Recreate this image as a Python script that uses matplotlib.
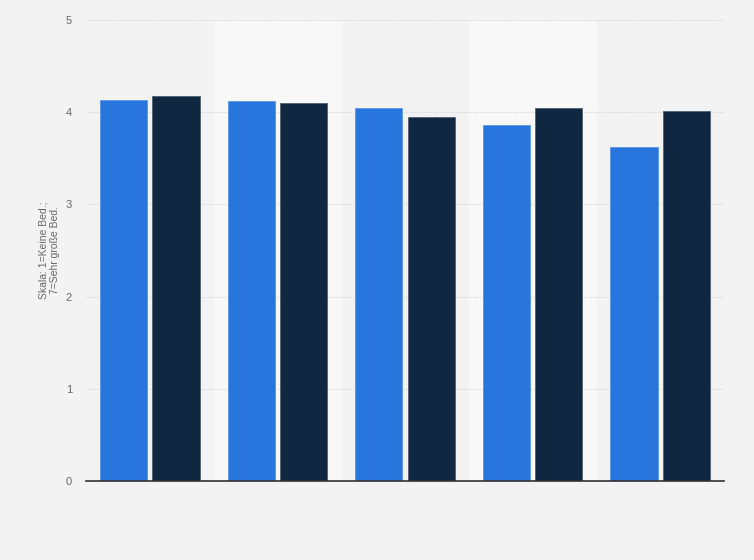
import numpy as np
import matplotlib.pyplot as plt

# Werte
groups = ["1", "2", "3", "4", "5"]
series_a = [4.13, 4.12, 4.05, 3.86, 3.62]
series_b = [4.18, 4.10, 3.95, 4.05, 4.01]
y_ticks = [0, 1, 2, 3, 4, 5]

plt.rcParams["font.family"] = ["Liberation Sans", "DejaVu Sans"]

fig = plt.figure(figsize=(7.54, 5.6), dpi=100, facecolor="#f3f3f3")
ax = fig.add_axes([86 / 754, 1 - 481 / 560, 638 / 754, 461 / 560])
ax.set_facecolor("#f3f3f3")

x = np.arange(len(groups))
w = 0.37
off = 0.206

# hellere Streifen hinter jeder zweiten Gruppe
for i in x:
    if i % 2 == 1:
        ax.axvspan(i - 0.5, i + 0.5, color="#f8f8f8", zorder=0)

ax.bar(x - off, series_a, w, color="#2876dd", edgecolor="#5a95e6", linewidth=0.6, zorder=3)
ax.bar(x + off, series_b, w, color="#0f2740", edgecolor="#51606f", linewidth=0.6, zorder=3)

ax.set_xlim(-0.5, len(groups) - 0.5)
ax.set_ylim(0, 5)
ax.set_yticks(y_ticks)
ax.set_xticks([])
ax.grid(axis="y", color="#d8d8d8", linestyle=(0, (1, 1)), linewidth=0.8, zorder=1)
ax.tick_params(axis="y", length=0, pad=10, labelsize=8, labelcolor="#666666")

for side in ["top", "right", "left"]:
    ax.spines[side].set_visible(False)
ax.spines["bottom"].set_color("#333333")
ax.spines["bottom"].set_linewidth(1.2)
ax.spines["bottom"].set_zorder(4)

ax.set_ylabel("Skala: 1=Keine Bed.;\n7=Sehr große Bed.", fontsize=7.5, color="#666666", labelpad=4)

plt.savefig("out.png", dpi=100, facecolor=fig.get_facecolor())
